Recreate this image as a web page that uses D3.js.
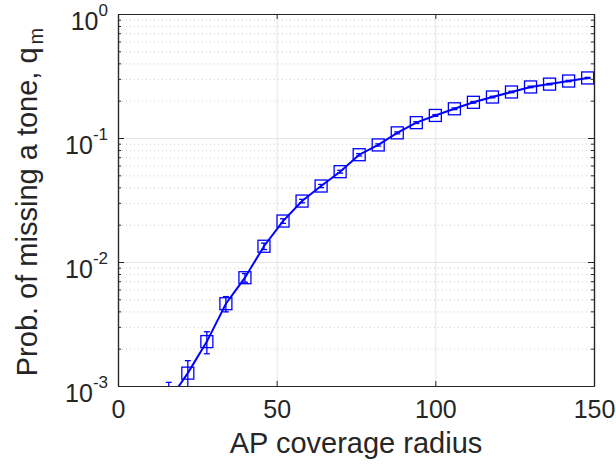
<!DOCTYPE html>
<html>
<head>
<meta charset="utf-8">
<script src="https://cdn.jsdelivr.net/npm/d3@7"></script>
<style>
  body { margin: 0; background: #fff; }
  svg { display: block; font-family: "Liberation Sans", Arial, Helvetica, sans-serif; }
</style>
</head>
<body>
<svg id="chart" width="616" height="471"></svg>
<script>
// values
const radius = [16, 22, 28, 34, 40, 46, 52, 58, 64, 70, 76, 82, 88, 94, 100, 106, 112, 118, 124, 130, 136, 142, 148];
const probMiss = [0.00076, 0.00127, 0.00228, 0.00461, 0.00747, 0.0134, 0.0214, 0.0310, 0.041, 0.0535, 0.0733, 0.0879,
  0.110, 0.133, 0.152, 0.172, 0.194, 0.214, 0.235, 0.258, 0.272, 0.288, 0.305];
const probErr = [0.00031, 0.00033, 0.00046, 0.00065, 0.0006, 0.0008, 0.0009, 0.001, 0.0012, 0.0014, 0.0016, 0.0018,
  0.002, 0.0022, 0.0025, 0.0027, 0.003, 0.003, 0.0032, 0.0035, 0.0035, 0.0035, 0.0035];

const xTicks = [0, 50, 100, 150];
const yTicks = [1e-3, 1e-2, 1e-1, 1];
const xLabel = "AP coverage radius";
const yLabel = "Prob. of missing a tone, q";
const yLabelSub = "m";

const svg = d3.select("#chart");
const pLeft = 118, pRight = 594, pTop = 14, pBottom = 386;
const axisColor = "#262626";
const blue = "#0000ff";

const x = d3.scaleLinear().domain([0, 150]).range([pLeft, pRight]);
const y = d3.scaleLog().domain([1e-3, 1]).range([pBottom, pTop]);

// minor ticks 2..9 in every decade
let yMinor = [];
yTicks.slice(0, -1).forEach(function(d) {
  for (let k = 2; k <= 9; k++) yMinor.push(d * k);
});

// grid
const grid = svg.append("g");
grid.append("g")
  .attr("transform", `translate(${pLeft},0)`)
  .call(d3.axisLeft(y).tickValues(yMinor).tickSize(-(pRight - pLeft)).tickFormat(""))
  .call(g => g.select(".domain").remove())
  .selectAll("line")
    .attr("stroke", "#cdcdcd")
    .attr("stroke-dasharray", "1 3");
grid.append("g")
  .attr("transform", `translate(${pLeft},0)`)
  .call(d3.axisLeft(y).tickValues(yTicks.slice(1, -1)).tickSize(-(pRight - pLeft)).tickFormat(""))
  .call(g => g.select(".domain").remove())
  .selectAll("line")
    .attr("stroke", "#e6e6e6");
grid.append("g")
  .attr("transform", `translate(0,${pBottom})`)
  .call(d3.axisBottom(x).tickValues(xTicks.slice(1, -1)).tickSize(-(pBottom - pTop)).tickFormat(""))
  .call(g => g.select(".domain").remove())
  .selectAll("line")
    .attr("stroke", "#e6e6e6");

// data
svg.append("clipPath").attr("id", "clip")
  .append("rect")
    .attr("x", pLeft).attr("y", pTop)
    .attr("width", pRight - pLeft).attr("height", pBottom - pTop);

const pts = radius.map((r, i) => ({ r: r, p: probMiss[i], e: probErr[i] }));
const plot = svg.append("g").attr("clip-path", "url(#clip)");

const line = d3.line()
  .x(d => x(d.r))
  .y(d => y(d.p));

plot.append("path")
  .datum(pts)
  .attr("fill", "none")
  .attr("stroke", blue)
  .attr("stroke-width", 2)
  .attr("d", line);

const bars = plot.selectAll(".err")
  .data(pts)
  .enter()
  .append("g")
  .attr("stroke", blue)
  .attr("stroke-width", 1.3);

bars.append("line")
  .attr("x1", d => x(d.r)).attr("x2", d => x(d.r))
  .attr("y1", d => y(Math.max(d.p - d.e, 1e-5)))
  .attr("y2", d => y(d.p + d.e));
bars.append("line")
  .attr("x1", d => x(d.r) - 3).attr("x2", d => x(d.r) + 3)
  .attr("y1", d => y(d.p + d.e)).attr("y2", d => y(d.p + d.e));
bars.append("line")
  .attr("x1", d => x(d.r) - 3).attr("x2", d => x(d.r) + 3)
  .attr("y1", d => y(Math.max(d.p - d.e, 1e-5))).attr("y2", d => y(Math.max(d.p - d.e, 1e-5)));

plot.selectAll(".mark")
  .data(pts)
  .enter()
  .append("rect")
    .attr("x", d => x(d.r) - 6)
    .attr("y", d => y(d.p) - 6)
    .attr("width", 12)
    .attr("height", 12)
    .attr("fill", "none")
    .attr("stroke", blue)
    .attr("stroke-width", 1.3);

// axes
function styleAxis(g) {
  g.select(".domain").attr("stroke", axisColor).attr("stroke-width", 1.2);
  g.selectAll(".tick line").attr("stroke", axisColor);
  g.selectAll("text").attr("fill", axisColor).attr("font-size", 25).attr("font-family", null);
}

svg.append("g")
  .attr("transform", `translate(0,${pBottom})`)
  .call(d3.axisBottom(x).tickValues(xTicks).tickSize(-5).tickSizeOuter(0).tickPadding(14))
  .call(styleAxis);
svg.append("g")
  .attr("transform", `translate(0,${pTop})`)
  .call(d3.axisTop(x).tickValues(xTicks).tickSize(-5).tickSizeOuter(0).tickFormat(""))
  .call(styleAxis);

const yLeft = svg.append("g")
  .attr("transform", `translate(${pLeft},0)`)
  .call(d3.axisLeft(y).tickValues(yTicks).tickSize(-6).tickSizeOuter(0).tickPadding(10))
  .call(styleAxis);
yLeft.selectAll("text")
  .text(null)
  .attr("dy", "0.62em")
  .each(function(d) {
    const t = d3.select(this);
    t.append("tspan").text("10");
    t.append("tspan")
      .attr("font-size", 17)
      .attr("dy", -14)
      .text(String(Math.round(Math.log10(d))));
  });
svg.append("g")
  .attr("transform", `translate(${pLeft},0)`)
  .call(d3.axisLeft(y).tickValues(yMinor).tickSize(-3).tickSizeOuter(0).tickFormat(""))
  .call(styleAxis);
svg.append("g")
  .attr("transform", `translate(${pRight},0)`)
  .call(d3.axisRight(y).tickValues(yTicks).tickSize(-6).tickSizeOuter(0).tickFormat(""))
  .call(styleAxis);
svg.append("g")
  .attr("transform", `translate(${pRight},0)`)
  .call(d3.axisRight(y).tickValues(yMinor).tickSize(-3).tickSizeOuter(0).tickFormat(""))
  .call(styleAxis);

// labels
svg.append("text")
  .attr("x", (pLeft + pRight) / 2)
  .attr("y", 453)
  .attr("text-anchor", "middle")
  .attr("font-size", 29)
  .attr("fill", axisColor)
  .text(xLabel);

const yl = svg.append("text")
  .attr("transform", `translate(37,${(pTop + pBottom) / 2 + 2}) rotate(-90)`)
  .attr("text-anchor", "middle")
  .attr("font-size", 29)
  .attr("fill", axisColor);
yl.append("tspan").text(yLabel);
yl.append("tspan").attr("font-size", 20).attr("dx", 3).attr("dy", 6).text(yLabelSub);
</script>
</body>
</html>
